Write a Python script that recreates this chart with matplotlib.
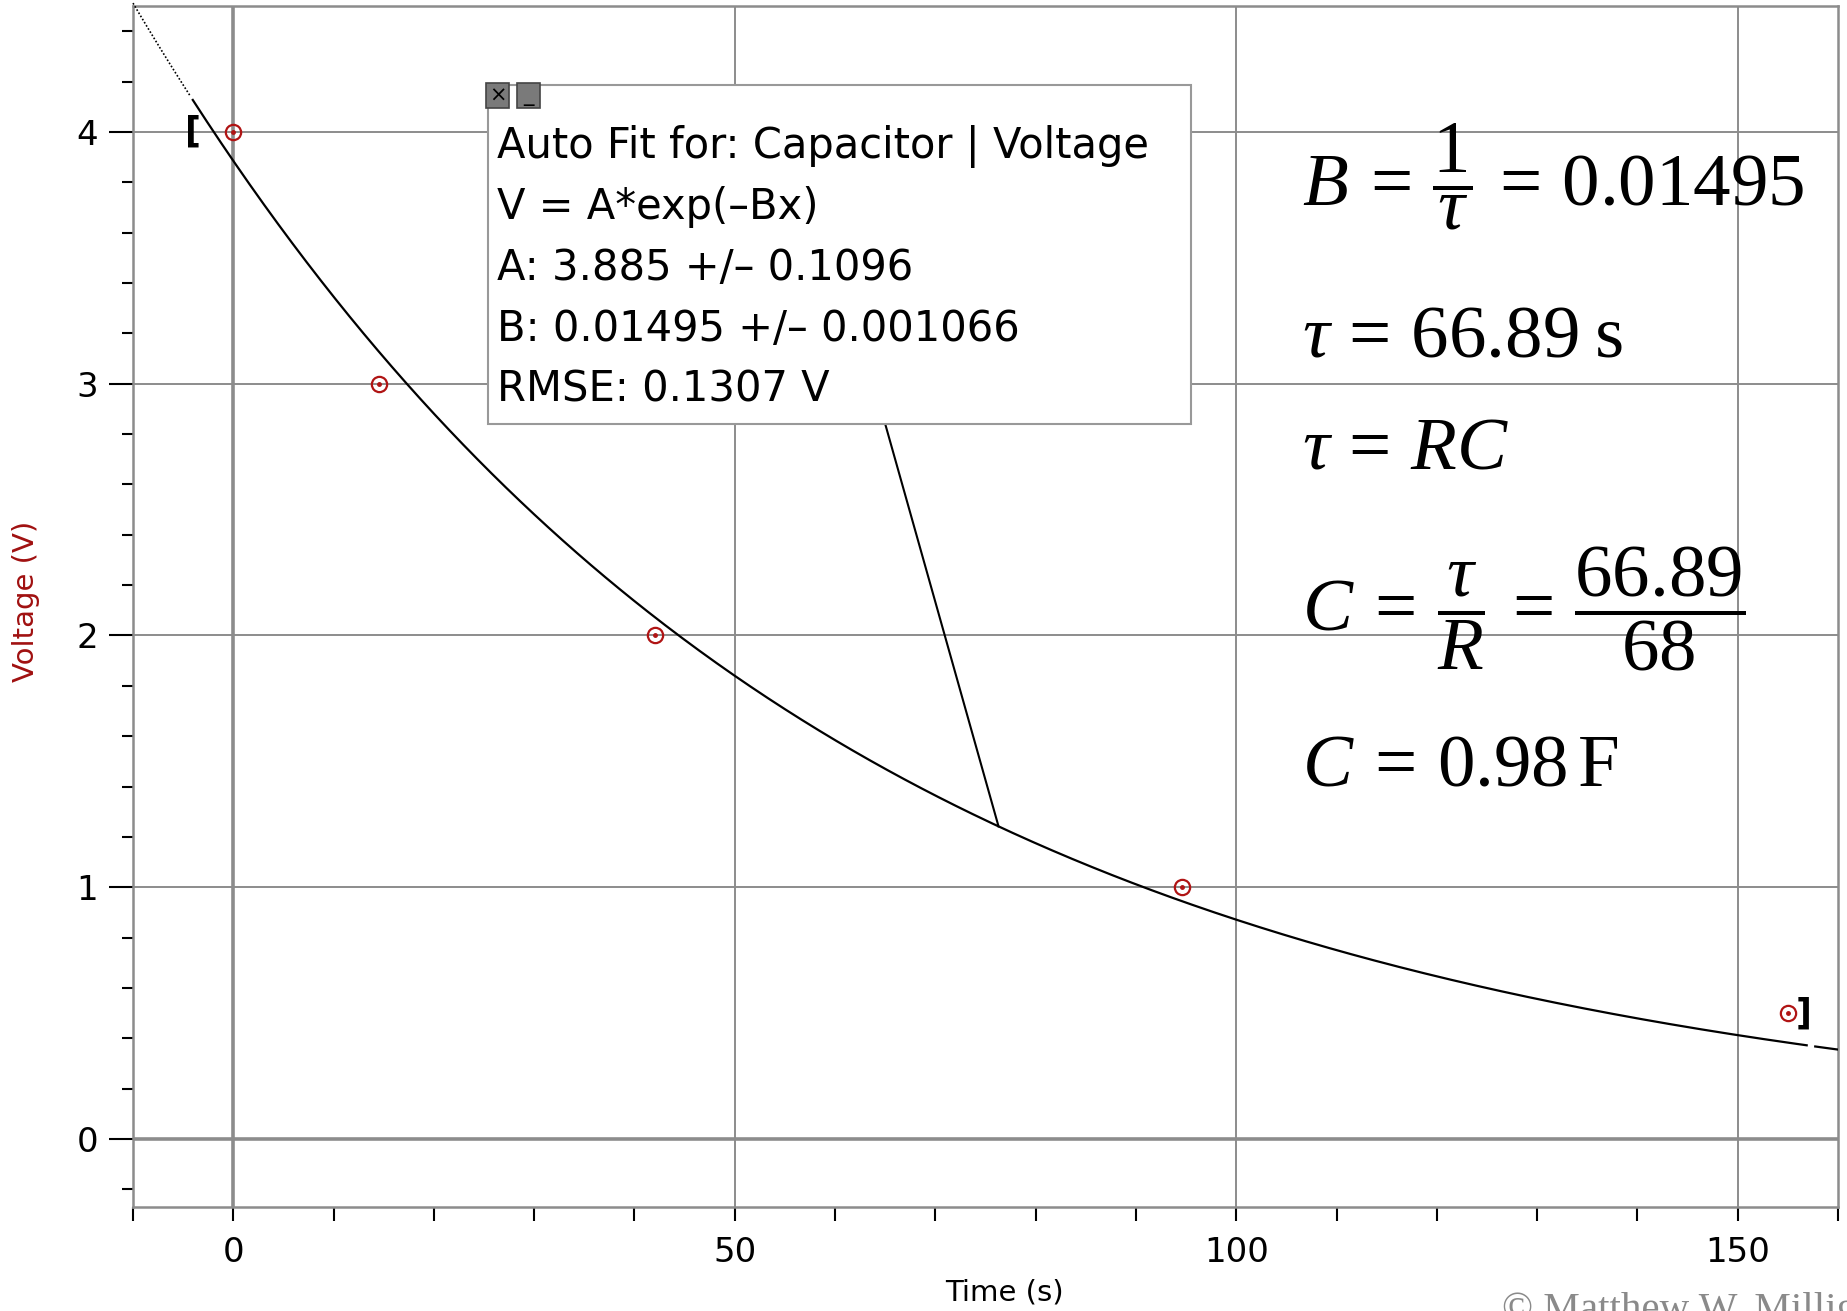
import numpy as np
import matplotlib.pyplot as plt
from matplotlib.patches import Rectangle

plt.rcParams['font.family'] = ['DejaVu Sans']
plt.rcParams['mathtext.fontset'] = 'custom'
plt.rcParams['mathtext.rm'] = 'Liberation Serif'
plt.rcParams['mathtext.it'] = 'Liberation Serif:italic'
plt.rcParams['mathtext.bf'] = 'Liberation Serif:bold'

# measured data (capacitor discharge)
time_s = [0, 14.5, 42, 94.6, 155]
voltage = [4.0, 3.0, 2.0, 1.0, 0.5]

# auto-fit result V = A*exp(-Bx)
fit_A = 3.885
fit_B = 0.01495
fit_lines = ['Auto Fit for: Capacitor | Voltage',
             'V = A*exp(\u2013Bx)',
             'A: 3.885 +/\u2013 0.1096',
             'B: 0.01495 +/\u2013 0.001066',
             'RMSE: 0.1307 V']

eq_lines = [r'$B\:=\,\dfrac{1}{\tau}\,=\,0.01495$',
            r'$\tau\,=\,66.89\;\mathrm{s}$',
            r'$\tau\,=\,RC$',
            r'$C\:=\,\dfrac{\tau}{R}\,=\,\dfrac{66.89}{68}$',
            r'$C\:=\,0.98\,\mathrm{F}$']

x_major = [0, 50, 100, 150]
y_major = [0, 1, 2, 3, 4]

W, H = 1847, 1311
fig = plt.figure(figsize=(W / 100, H / 100), dpi=100)
ax = fig.add_axes([133 / W, 1 - 1207 / H, (1838 - 133) / W, (1207 - 6) / H])

ax.set_xlim(-10, 160)
ax.set_ylim(-0.27, 4.5)

grid_c = '#8c8c8c'
for v in x_major:
    ax.axvline(v, color=grid_c, lw=2.6 if v == 0 else 1.4, zorder=1)
for v in y_major:
    ax.axhline(v, color=grid_c, lw=2.6 if v == 0 else 1.4, zorder=1)

for s in ax.spines.values():
    s.set_color(grid_c)
    s.set_linewidth(1.8)

ax.set_xticks(x_major)
ax.set_xticks(np.arange(-10, 161, 10), minor=True)
ax.set_yticks(y_major)
ax.set_yticks(np.arange(-0.2, 4.41, 0.2), minor=True)
ax.tick_params(axis='x', which='both', length=10, width=1.5, color='black',
               labelsize=24.5, pad=11)
ax.tick_params(axis='y', which='major', length=17, width=1.5, color='black',
               labelsize=24.5, pad=8)
ax.tick_params(axis='y', which='minor', length=8, width=1.5, color='black')

# fit curve: dotted outside the fit range, solid inside
xs = np.linspace(-10, 160, 600)
ys = fit_A * np.exp(-fit_B * xs)
m1 = xs <= -4.3
m2 = (xs >= -4.3) & (xs <= 157.0)
m3 = xs >= 157.5
ax.plot(xs[m1], ys[m1], color='black', lw=1.2, ls=(0, (1, 1.2)), zorder=3, clip_on=False)
ax.plot(xs[m2], ys[m2], color='black', lw=1.6, zorder=3)
ax.plot(xs[m3], ys[m3], color='black', lw=1.6, zorder=3)

# data points
red = '#b01414'
ax.plot(time_s, voltage, 'o', ms=11, mfc='none', mec=red, mew=1.6, zorder=4)
ax.plot(time_s, voltage, 'o', ms=2.5, mfc=red, mec=red, zorder=4)

# range brackets
ax.text(-4.0, 4.0, '[', fontsize=25, fontweight='bold', ha='center', va='center', zorder=5)
ax.text(156.6, 0.5, ']', fontsize=25, fontweight='bold', ha='center', va='center', zorder=5)

# connector from fit box to curve
x_hit = 76.3
ax.plot([65.0, x_hit], [2.84, fit_A * np.exp(-fit_B * x_hit)], color='black', lw=1.5, zorder=3)

# fit info box
bx0, bx1, by0, by1 = 488, 1191, 85, 424
fig.patches.append(Rectangle((bx0 / W, 1 - by1 / H), (bx1 - bx0) / W, (by1 - by0) / H,
                             transform=fig.transFigure, facecolor='white',
                             edgecolor='#999999', lw=1.5, zorder=5))
for i, line in enumerate(fit_lines):
    fig.text(497 / W, 1 - (146 + 61 * i) / H, line, fontsize=30,
             ha='left', va='center', zorder=6)

# close / minimise buttons
for bx, label in [(486, '\u00d7'), (517, '_')]:
    fig.patches.append(Rectangle((bx / W, 1 - 108 / H), 23 / W, 25 / H,
                                 transform=fig.transFigure, facecolor='#7a7a7a',
                                 edgecolor='#444444', lw=1.2, zorder=7))
    fig.text((bx + 11.5) / W, 1 - 96 / H, label, fontsize=15, ha='center',
             va='center', color='black', zorder=8)

# equations on the right
eq_y = [177, 336, 448, 609, 765]
for line, y in zip(eq_lines, eq_y):
    fig.text(1302 / W, 1 - y / H, line, fontsize=54, ha='left', va='center', zorder=6)

# axis labels
fig.text(26 / W, 1 - 601 / H, 'Voltage (V)', rotation=90, fontsize=21,
         color='#a01010', ha='center', va='center')
fig.text(1004 / W, 1 - 1292 / H, 'Time (s)', fontsize=21, ha='center', va='center')

fig.text(1502 / W, 1 - 1292 / H, '\u00a9 Matthew W. Milligan', fontsize=29.5,
         family='Liberation Serif', color='#8a8a8a', ha='left', va='top')

fig.savefig('out.png', dpi=100)
